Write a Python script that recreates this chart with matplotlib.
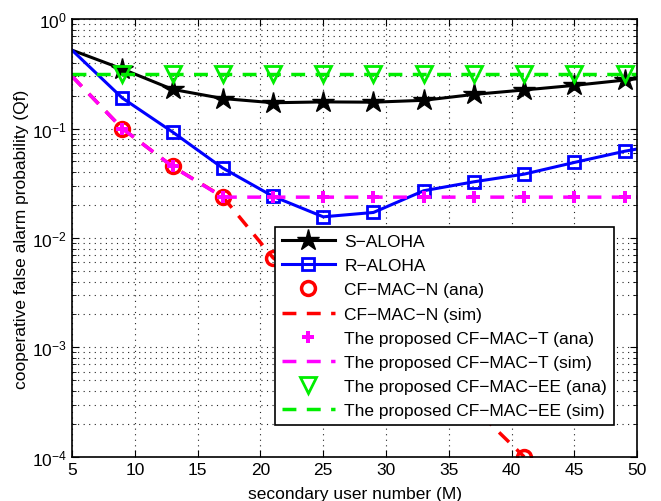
import matplotlib
matplotlib.use('Agg')
import matplotlib.pyplot as plt

plt.rcParams['font.family'] = ['Liberation Sans', 'DejaVu Sans']
plt.rcParams['mathtext.fontset'] = 'custom'
plt.rcParams['mathtext.rm'] = 'Liberation Sans'
plt.rcParams['mathtext.it'] = 'Liberation Sans'

# secondary user number (M)
M = [5, 9, 13, 17, 21, 25, 29, 33, 37, 41, 45, 49, 50]
M_n = [5, 9, 13, 17, 21, 25, 29, 33, 37, 41]

s_aloha = [0.52, 0.35, 0.228, 0.188, 0.172, 0.175, 0.174, 0.181, 0.205, 0.225, 0.248, 0.277, 0.285]
r_aloha = [0.52, 0.19, 0.093, 0.0435, 0.024, 0.0156, 0.0171, 0.027, 0.0326, 0.0383, 0.049, 0.062, 0.065]
cf_n = [0.3, 0.1, 0.045, 0.0238, 0.0066, 0.0030, 0.00135, 0.00062, 0.00028, 0.0001]
cf_t = [0.3, 0.1, 0.045, 0.0236, 0.0236, 0.0236, 0.0236, 0.0236, 0.0236, 0.0236, 0.0236, 0.0236, 0.0236]
cf_ee = [0.314] * len(M)

labels = ['S\u2212ALOHA', 'R\u2212ALOHA', 'CF\u2212MAC\u2212N (ana)', 'CF\u2212MAC\u2212N (sim)',
          'The proposed CF\u2212MAC\u2212T (ana)', 'The proposed CF\u2212MAC\u2212T (sim)',
          'The proposed CF\u2212MAC\u2212EE (ana)', 'The proposed CF\u2212MAC\u2212EE (sim)']

fs = 12.5

fig = plt.figure(figsize=(6.61, 5.02), dpi=100)
ax = fig.add_axes([0.109, 0.088, 0.855, 0.872])

mk = slice(1, -1)
ax.plot(M, s_aloha, '-', color='black', lw=2.2, marker='*', ms=16, markevery=mk, label=labels[0])
ax.plot(M, r_aloha, '-', color='blue', lw=2.2, marker='s', ms=9, mfc='none', mew=2, markevery=mk, label=labels[1])
ax.plot(M_n[1:], cf_n[1:], 'o', color='red', ms=10, mfc='none', mew=2.5, label=labels[2])
ax.plot(M_n, cf_n, '--', color='red', lw=2.5, dashes=(4, 3), label=labels[3])
ax.plot(M[mk], cf_t[mk], 'P', color='magenta', ms=8, mew=0, label=labels[4])
ax.plot(M, cf_t, '--', color='magenta', lw=2.5, dashes=(4, 3), label=labels[5])
ax.plot(M[mk], cf_ee[mk], 'v', color='#00ee00', ms=11, mfc='none', mew=2, label=labels[6])
ax.plot(M, cf_ee, '--', color='#00ee00', lw=2.5, dashes=(4, 3), label=labels[7])

ax.set_yscale('log')
ax.set_xlim(5, 50)
ax.set_ylim(1e-4, 1)
ax.set_xticks([5, 10, 15, 20, 25, 30, 35, 40, 45, 50])
ax.set_yticks([1e-4, 1e-3, 1e-2, 1e-1, 1])
ax.set_yticklabels(['$10^{-4}$', '$10^{-3}$', '$10^{-2}$', '$10^{-1}$', '$10^{0}$'])

ax.grid(True, which='major', linestyle=(0, (1, 4)), color='#222222', lw=0.8)
ax.grid(True, which='minor', axis='y', linestyle=(0, (1, 4)), color='#222222', lw=0.8)
ax.tick_params(which='both', direction='in', top=True, right=True, labelsize=fs)
ax.tick_params(which='major', length=5)
ax.tick_params(which='minor', length=3)
for s in ax.spines.values():
    s.set_linewidth(1.2)

ax.set_xlabel('secondary user number (M)', fontsize=fs, labelpad=7)
ax.set_ylabel('cooperative false alarm probability (Qf)', fontsize=fs, labelpad=2)

leg = ax.legend(loc='upper left', bbox_to_anchor=(0.359, 0.525), borderaxespad=0,
                fontsize=fs, handlelength=3.05, handletextpad=0.55, labelspacing=0.52,
                borderpad=0.4, fancybox=False, framealpha=1, edgecolor='black')
leg.get_frame().set_linewidth(1.2)

fig.savefig('out.png', dpi=100)
